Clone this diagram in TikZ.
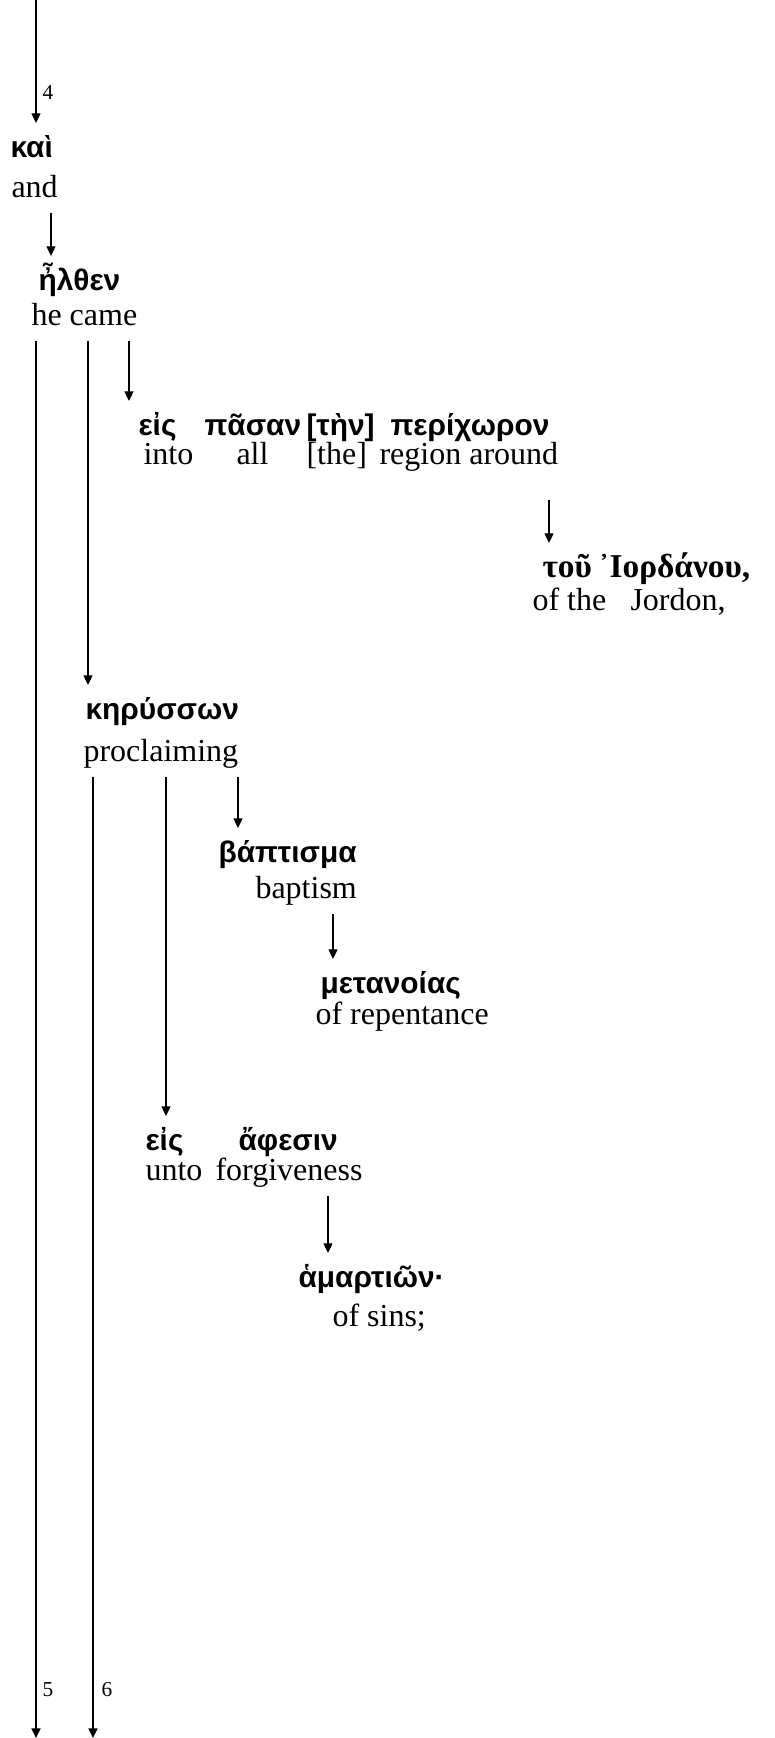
\documentclass[tikz,border=0pt,12pt]{standalone}
\usepackage{fontspec}
\setmainfont{Liberation Serif}
\newfontfamily\greekfont{Liberation Sans}
\usetikzlibrary{arrows.meta}

\begin{document}
\begin{tikzpicture}[x=0.375pt, y=-0.375pt,
        gk/.style={font=\greekfont\bfseries\fontsize{11.2}{13}\selectfont, anchor=base west, inner xsep=0pt, inner ysep=3pt, text height=0.8em},
        gkt/.style={gk, font=\bfseries\fontsize{12.5}{14}\selectfont},
        gloss/.style={anchor=base west, inner xsep=0pt, inner ysep=3pt, text depth=0.22em},
        vnum/.style={font=\fontsize{8}{9}\selectfont, inner sep=0pt},
        arr/.style={-{Triangle[length=3.6pt,width=3.4pt]}, line width=0.5pt}
    ]
        \useasboundingbox (0,0) rectangle (775,1738);

        \coordinate (top4) at (36,0);
        \coordinate (end5) at (36,1738);
        \coordinate (end6) at (93,1738);

        % kai / elthen
        \node[gk] (kai) at (10,157) {καὶ};
        \node[gloss] (gand) at (11,197) {and};
        \node[gk] (elthen) at (38,290) {ἦλθεν};
        \node[gloss] (hecame) at (31,325) {he came};

        % eis pasan ten perichoron
        \node[gk] (eis1) at (138,435) {εἰς};
        \node[gk] (pasan) at (204,435) {πᾶσαν};
        \node[gk] (ten) at (306,435) {[τὴν]};
        \node[gk] (perichoron) at (390,435) {περίχωρον};
        \node[gloss] (into) at (143,464) {into};
        \node[gloss] (all) at (236,464) {all};
        \node[gloss] (the) at (306,464) {[the]};
        \node[gloss] (region) at (379,464) {region around};

        \node[gkt] (tou) at (542,577) {τοῦ};
        \node[gkt] (iordanou) at (598,577) {᾿Ιορδάνου,};
        \node[gloss] (ofthe) at (532,610) {of the};
        \node[gloss] (jordon) at (630,610) {Jordon,};

        % kerysson
        \node[gk] (kerysson) at (85,719) {κηρύσσων};
        \node[gloss] (proclaiming) at (83,761) {proclaiming};

        \node[gk] (baptisma) at (218,862) {βάπτισμα};
        \node[gloss] (baptism) at (255,898) {baptism};
        \node[gk] (metanoias) at (320,993) {μετανοίας};
        \node[gloss] (repentance) at (315,1024) {of repentance};

        \node[gk] (eis2) at (145,1150) {εἰς};
        \node[gk] (aphesin) at (238,1150) {ἄφεσιν};
        \node[gloss] (unto) at (145,1180) {unto};
        \node[gloss] (forgiveness) at (215,1180) {forgiveness};
        \node[gk] (hamartion) at (298,1287) {ἁμαρτιῶν·};
        \node[gloss] (sins) at (332,1326) {of sins;};

        % Arrows
        \draw[arr] (top4) -- (kai.north -| top4);
        \draw[arr] (gand.south -| 51,0) -- (elthen.north -| 51,0);
        \draw[arr] (hecame.south -| end5) -- (end5);
        \draw[arr] (hecame.south -| 88,0) -- (kerysson.north -| 88,0);
        \draw[arr] (hecame.south -| 129,0) -- (eis1.north -| 129,0);
        \draw[arr, shorten <=7.5pt] (region.south -| 549,0) -- (tou.north -| 549,0);
        \draw[arr] (proclaiming.south -| end6) -- (end6);
        \draw[arr] (proclaiming.south -| 166,0) -- (eis2.north -| 166,0);
        \draw[arr] (proclaiming.south -| 238,0) -- (baptisma.north -| 238,0);
        \draw[arr] (baptism.south -| 333,0) -- (metanoias.north -| 333,0);
        \draw[arr] (forgiveness.south -| 328,0) -- (hamartion.north -| 328,0);

        % Verse numbers
        \node[vnum] (v4) at (48,92) {4};
        \node[vnum] (v5) at (48,1690) {5};
        \node[vnum] (v6) at (107,1690) {6};

    \end{tikzpicture}
\end{document}
